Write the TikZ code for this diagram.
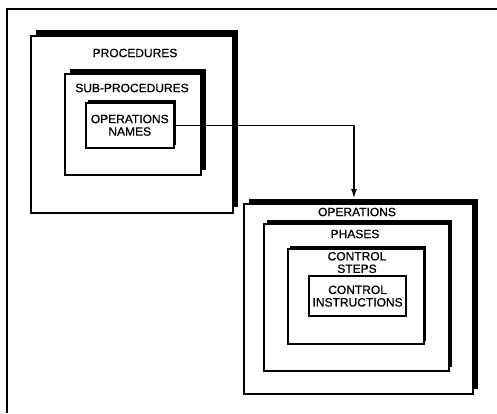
\documentclass[tikz,border=0pt]{standalone}
\usepackage{fontspec}
\setmainfont{Liberation Sans}[BoldFont={Liberation Sans},BoldFeatures={FakeBold=0.8}]
\usetikzlibrary{positioning,shadows,arrows.meta}
\tikzset{
  box/.style={draw,line width=1.5pt,fill=white,anchor=north west,inner sep=0pt,align=center},
  blackshadow/.style={drop shadow={shadow xshift=#1,shadow yshift=#1,fill=black,opacity=1}},
  lbl/.style={align=center,inner sep=1pt},
}

\begin{document}
\begin{tikzpicture}[x=1pt,y=-1pt,every node/.style={font=\fontsize{12}{12.5}\selectfont\bfseries}]
    \useasboundingbox (0,0) rectangle (497,413);
    % open frame round the page
    \draw[line width=1.6pt] (7,413) -- (7,9) -- (497,9);
    % left: procedures
    \node[box,blackshadow=5.5pt,minimum width=202pt,minimum height=177pt] (proc) at (30,35) {};
    \node[lbl] (proclbl) at (135,53) {PROCEDURES};
    \node[box,blackshadow=5pt,minimum width=136pt,minimum height=101pt] (sub) at (64,73) {};
    \node[lbl] (sublbl) at (132,88) {SUB-PROCEDURES};
    \node[box,blackshadow=2.5pt,minimum width=88pt,minimum height=45pt] (opnames) at (85,102) {OPERATIONS\\NAMES};
    % right: operations
    \node[box,blackshadow=5pt,minimum width=229pt,minimum height=190pt] (ops) at (243,203) {};
    \node[lbl] (opslbl) at (357,212) {OPERATIONS};
    \node[box,blackshadow=3.5pt,minimum width=185pt,minimum height=147pt] (phases) at (263,223) {};
    \node[lbl] (phaseslbl) at (355,234) {PHASES};
    \node[box,blackshadow=2.5pt,minimum width=136pt,minimum height=95pt] (steps) at (287,248) {};
    \node[lbl] (stepslbl) at (357,262.5) {CONTROL\\STEPS};
    \node[box,line width=2.2pt,minimum width=97pt,minimum height=40pt] (instr) at (308,275) {CONTROL\\INSTRUCTIONS};
    \coordinate (drop) at (354,198);
    \draw[line width=1.3pt,-{Latex[length=9pt,width=6pt]}] (opnames.east) -| (drop);
\end{tikzpicture}
\end{document}
